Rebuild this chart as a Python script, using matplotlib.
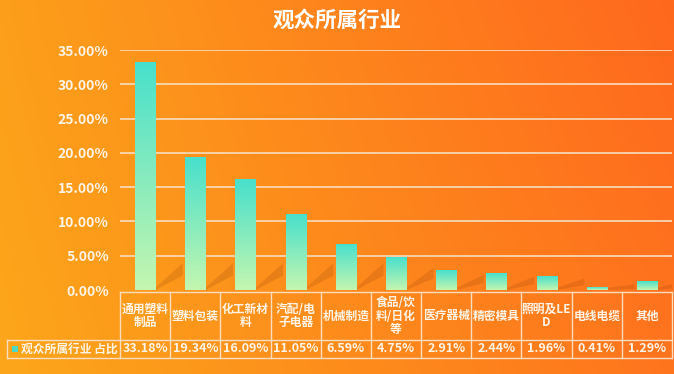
import numpy as np
import matplotlib.pyplot as plt
from matplotlib.patches import Polygon, Rectangle

plt.rcParams['font.family'] = ['Noto Sans CJK SC', 'DejaVu Sans']

title = "观众所属行业"
series_name = "观众所属行业 占比"
categories = ["通用塑料\n制品", "塑料包装", "化工新材\n料", "汽配/电\n子电器", "机械制造",
              "食品/饮\n料/日化\n等", "医疗器械", "精密模具", "照明及LE\nD", "电线电缆", "其他"]
values = [33.18, 19.34, 16.09, 11.05, 6.59, 4.75, 2.91, 2.44, 1.96, 0.41, 1.29]
yticks = [0, 5, 10, 15, 20, 25, 30, 35]

W, H = 674, 374
fig = plt.figure(figsize=(W / 100, H / 100), dpi=100)

# background gradient
bg = fig.add_axes([0, 0, 1, 1])
bg.set_axis_off()
xs = np.linspace(0, 1, 200)
ys = np.linspace(0, 1, 120)
X, Y = np.meshgrid(xs, ys)
t = np.clip(0.8 * X + 0.12 * Y + 0.08 * X * Y, 0, 1)
left_col = np.array([252, 166, 26]) / 255
right_col = np.array([255, 104, 30]) / 255
img = left_col[None, None, :] * (1 - t[..., None]) + right_col[None, None, :] * t[..., None]
bg.imshow(img, extent=[0, 1, 0, 1], aspect='auto', origin='lower')
bg.set_xlim(0, 1)
bg.set_ylim(0, 1)

ax = fig.add_axes([120 / W, (H - 290) / H, 552 / W, 240 / H])
ax.set_facecolor('none')
n = len(values)
x = np.arange(n)
bw = 0.4

grid_col = '#F9DDBE'
text_col = '#FFF4E6'
for v in yticks[1:]:
    ax.axhline(v, color=grid_col, lw=1.2, zorder=1)

grad = np.linspace(0, 1, 100)[:, None]
top = np.array([72, 224, 204]) / 255
bot = np.array([196, 246, 176]) / 255
bar_img = bot[None, None, :] * (1 - grad[..., None]) + top[None, None, :] * grad[..., None]

for xi, v in zip(x, values):
    # soft shadow
    sh = min(v, 6.0)
    ax.add_patch(Polygon([[xi + bw / 2, 0.3], [xi + bw / 2 + 0.55, sh * 0.55 + 0.6],
                          [xi + bw / 2 + 0.55, sh * 0.35], [xi + bw / 2, 0.0]],
                         closed=True, color='#8a3a00', alpha=0.18, lw=0, zorder=2))
    ax.imshow(bar_img, extent=[xi - bw / 2, xi + bw / 2, 0, v], aspect='auto',
              origin='lower', zorder=3)

ax.set_xlim(-0.5, n - 0.5)
ax.set_ylim(0, 35)
ax.set_yticks(yticks)
ax.set_yticklabels([f"{v:.2f}%" for v in yticks], color=text_col, fontsize=10, fontweight='bold')
ax.tick_params(axis='y', length=0, pad=8)
ax.set_xticks([])
for s in ax.spines.values():
    s.set_visible(False)

# data table below the plot
tr = ax.get_xaxis_transform()
px = 240.0
upx = 552 / n
y0 = -2 / px
y1 = -50 / px
y2 = -68 / px
xl = -0.5 - 113 / upx
line_kw = dict(color=grid_col, lw=1.0, transform=tr, clip_on=False, zorder=5)
ax.plot([-0.5, n - 0.5], [y0, y0], **line_kw)
ax.plot([xl, n - 0.5], [y1, y1], **line_kw)
ax.plot([xl, n - 0.5], [y2, y2], **line_kw)
ax.plot([xl, xl], [y1, y2], **line_kw)
for i in range(n + 1):
    ax.plot([i - 0.5, i - 0.5], [y0, y2], **line_kw)

for xi, c, v in zip(x, categories, values):
    ax.text(xi, (y0 + y1) / 2, c, transform=tr, ha='center', va='center', fontsize=8.5,
            fontweight='bold', color=text_col, linespacing=1.05, clip_on=False)
    ax.text(xi, (y1 + y2) / 2, f"{v:.2f}%", transform=tr, ha='center', va='center',
            fontsize=9, fontweight='bold', color=text_col, clip_on=False)

ym = (y1 + y2) / 2
ax.add_patch(Rectangle((xl + 5 / upx, ym - 3 / px), 6 / upx, 6 / px, transform=tr,
                       color='#4FD9C4', lw=0, clip_on=False, zorder=6))
ax.text(-0.55, ym, series_name, transform=tr, ha='right', va='center',
        fontsize=8.5, fontweight='bold', color=text_col, clip_on=False)

fig.text(0.5, 1 - 20 / H, title, ha='center', va='center', fontsize=15.5,
         fontweight='bold', color='white')

fig.savefig('out.png', dpi=100)
